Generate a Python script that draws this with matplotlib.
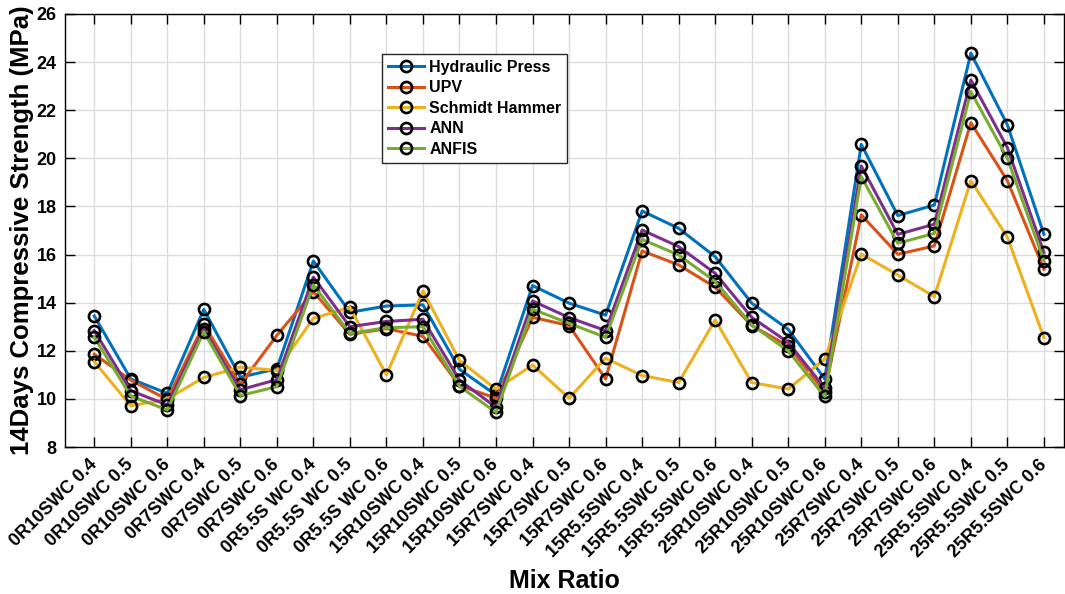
import matplotlib
matplotlib.use("Agg")
import matplotlib.pyplot as plt
import numpy as np

plt.rcParams['font.family'] = ['Liberation Sans', 'DejaVu Sans']
plt.rcParams['font.weight'] = 'bold'

mix_ratios = [
    "0R10SWC 0.4", "0R10SWC 0.5", "0R10SWC 0.6",
    "0R7SWC 0.4", "0R7SWC 0.5", "0R7SWC 0.6",
    "0R5.5S WC 0.4", "0R5.5S WC 0.5", "0R5.5S WC 0.6",
    "15R10SWC 0.4", "15R10SWC 0.5", "15R10SWC 0.6",
    "15R7SWC 0.4", "15R7SWC 0.5", "15R7SWC 0.6",
    "15R5.5SWC 0.4", "15R5.5SWC 0.5", "15R5.5SWC 0.6",
    "25R10SWC 0.4", "25R10SWC 0.5", "25R10SWC 0.6",
    "25R7SWC 0.4", "25R7SWC 0.5", "25R7SWC 0.6",
    "25R5.5SWC 0.4", "25R5.5SWC 0.5", "25R5.5SWC 0.6",
]

hydraulic_press = [13.45, 10.83, 10.23, 13.72, 10.90, 11.25, 15.73, 13.60, 13.86,
                   13.91, 11.23, 10.16, 14.71, 13.98, 13.48, 17.81, 17.09, 15.91,
                   13.98, 12.89, 10.83, 20.58, 17.62, 18.06, 24.37, 21.39, 16.84]
upv = [11.86, 10.78, 9.97, 13.10, 10.60, 12.64, 14.46, 12.68, 12.92,
       12.60, 10.55, 10.03, 13.39, 13.05, 10.83, 16.15, 15.57, 14.64,
       13.05, 12.20, 10.30, 17.65, 16.01, 16.36, 21.48, 19.07, 15.39]
schmidt_hammer = [11.55, 9.71, 10.00, 10.89, 11.32, 11.18, 13.35, 13.80, 11.00,
                  14.49, 11.60, 10.40, 11.41, 10.03, 11.69, 10.97, 10.68, 13.28,
                  10.68, 10.41, 11.66, 16.02, 15.15, 14.25, 19.07, 16.72, 12.55]
ann = [12.84, 10.34, 9.75, 12.90, 10.38, 10.80, 15.06, 13.00, 13.22,
       13.31, 10.78, 9.65, 14.07, 13.38, 12.84, 17.02, 16.33, 15.22,
       13.39, 12.35, 10.45, 19.68, 16.84, 17.26, 23.26, 20.44, 16.09]
anfis = [12.56, 10.12, 9.54, 12.79, 10.14, 10.51, 14.74, 12.72, 12.96,
         13.00, 10.52, 9.44, 13.73, 13.14, 12.56, 16.63, 15.98, 14.88,
         13.08, 11.99, 10.10, 19.24, 16.47, 16.88, 22.77, 20.00, 15.75]

series = [
    ("Hydraulic Press", hydraulic_press, "#0072BD"),
    ("UPV", upv, "#D95319"),
    ("Schmidt Hammer", schmidt_hammer, "#EDB120"),
    ("ANN", ann, "#7E2F8E"),
    ("ANFIS", anfis, "#77AC30"),
]

fig = plt.figure(figsize=(10.65, 5.94), dpi=100)
ax = fig.add_axes([65 / 1065, 1 - 447 / 594, (1064 - 65) / 1065, (447 - 14) / 594])

x = np.arange(1, len(mix_ratios) + 1)
for name, vals, color in series:
    ax.plot(x, vals, color=color, linewidth=2.2, marker='o', markersize=8,
            markerfacecolor='none', markeredgecolor='black', markeredgewidth=1.9,
            label=name)

ax.set_xlim(0.2, 27.55)
ax.set_ylim(8, 26)
ax.set_yticks(np.arange(8, 27, 2))
ax.set_xticks(x)
ax.set_xticklabels(mix_ratios, rotation=45, ha='right', va='center',
                   rotation_mode='anchor', fontsize=13, fontweight='bold')
for lbl in ax.get_yticklabels():
    lbl.set_fontsize(13)
    lbl.set_fontweight('bold')

ax.grid(True, color='#dcdcdc', linewidth=1.0)
ax.set_axisbelow(True)
ax.tick_params(direction='in', length=7, width=1, top=True, right=True,
               pad=6, colors='black')
ax.tick_params(axis='x', pad=11)
for s in ax.spines.values():
    s.set_linewidth(1.0)
    s.set_color('black')

ax.set_ylabel("14Days Compressive Strength (MPa)", fontsize=18.5, fontweight='bold',
              labelpad=2)
ax.set_xlabel("Mix Ratio", fontsize=18, fontweight='bold', labelpad=6)

leg = fig.legend(loc='upper left', bbox_to_anchor=(382 / 1065, 1 - 54 / 594),
                 prop={'weight': 'bold', 'size': 11.5},
                 frameon=True, fancybox=False, framealpha=1, edgecolor='#262626',
                 handlelength=2.3, handletextpad=0.3, labelspacing=0.35,
                 borderpad=0.35, borderaxespad=0)
leg.get_frame().set_linewidth(1.0)

fig.savefig("out.png", dpi=100)
